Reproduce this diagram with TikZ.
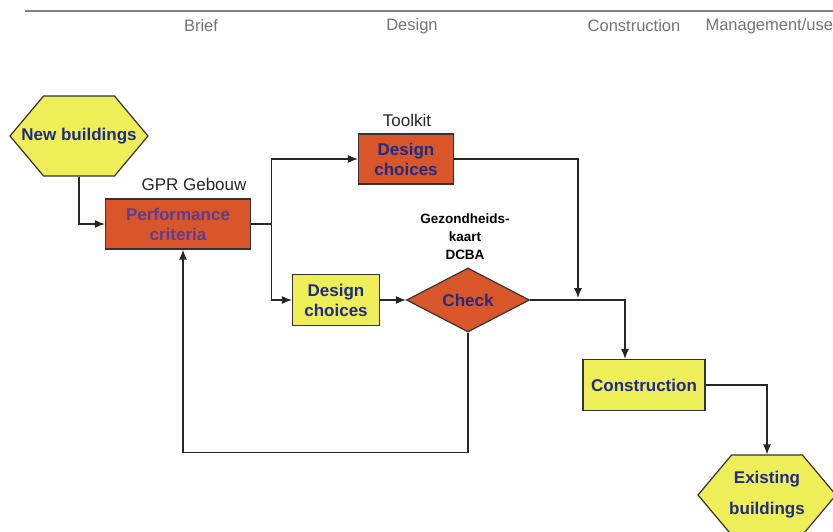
\documentclass[tikz,border=0pt]{standalone}
\usepackage{fontspec}
\setmainfont{Liberation Sans}
\usetikzlibrary{shapes.geometric,shapes.symbols,arrows.meta}
\definecolor{boxyellow}{HTML}{EEEE58}
\definecolor{boxorange}{HTML}{D9562B}
\definecolor{navy}{HTML}{1E2C84}
\definecolor{plum}{HTML}{5B3C96}
\begin{document}
\begin{tikzpicture}[x=1pt,y=-1pt,
	box/.style={draw=black!80, line width=1.2pt, align=center, inner sep=0pt, text=navy,
		font=\bfseries\fontsize{17}{20}\selectfont},
	yellowbox/.style={box, fill=boxyellow},
	orangebox/.style={box, fill=boxorange},
	hexa/.style={yellowbox, shape=signal, signal to=east and west, signal pointer angle=100,
		minimum width=138pt, minimum height=80pt},
	hexatext/.style={label={[text=navy, align=center, font=\bfseries\fontsize{17}{31}\selectfont]center:#1}},
	phase/.style={text=black!55, font=\fontsize{16.5}{18}\selectfont},
	tag/.style={text=black!85, font=\fontsize{17}{19}\selectfont},
	link/.style={draw=black!85, line width=1.2pt, -{Latex[length=10pt,width=8pt]}}]
	\useasboundingbox (0,0) rectangle (833,531);
	% phases of the building process
	\draw[black!50, line width=1.5pt] (25,11) -- (833,11);
	\node[phase] (brief) at (201,26) {Brief};
	\node[phase] (design) at (412,26) {Design};
	\node[phase] (constr) at (634,26) {Construction};
	\node[phase, anchor=west] (manage) at (702,26) {Management/use};
	% blocks
	\node[hexa, hexatext={New buildings}] (nb) at (79,136) {};
	\node[orangebox, text=plum, minimum width=145pt, minimum height=50pt] (pc) at (178,224) {Performance\\criteria};
	\node[tag] (gpr) at (194,184) {GPR Gebouw};
	\node[orangebox, minimum width=95pt, minimum height=50pt] (dtop) at (406,159) {Design\\choices};
	\node[tag] (toolkit) at (407,120) {Toolkit};
	\node[yellowbox, minimum width=87pt, minimum height=51pt] (dbot) at (336,300) {Design\\choices};
	\node[orangebox, shape=diamond, aspect=2, minimum width=123pt, minimum height=64pt] (chk) at (468,300) {Check};
	\node[align=center, font=\bfseries\fontsize{13.5}{18}\selectfont] (dcba) at (465,237) {Gezondheids-\\kaart\\DCBA};
	\node[yellowbox, minimum width=122pt, minimum height=51pt] (con) at (644,385) {Construction};
	\node[hexa, hexatext={Existing\\buildings}] (eb) at (767,495) {};
	\coordinate (merge) at (578,298);
	% connectors
	\draw[link] (nb.south) |- (pc.west);
	\draw[link] (pc.east) -- ++(20,0) |- (dtop.west);
	\draw[link] (pc.east) -- ++(20,0) |- (dbot.west);
	\draw[link] (dbot) -- (chk);
	\draw[link] (dtop.east) -| (merge);
	\draw[link] (chk.east) -| ([xshift=-19pt]con.north);
	\draw[link] (chk.south) -- ++(0,120) -| ([xshift=5pt]pc.south);
	\draw[link] (con.east) -| (eb.north);
\end{tikzpicture}
\end{document}
